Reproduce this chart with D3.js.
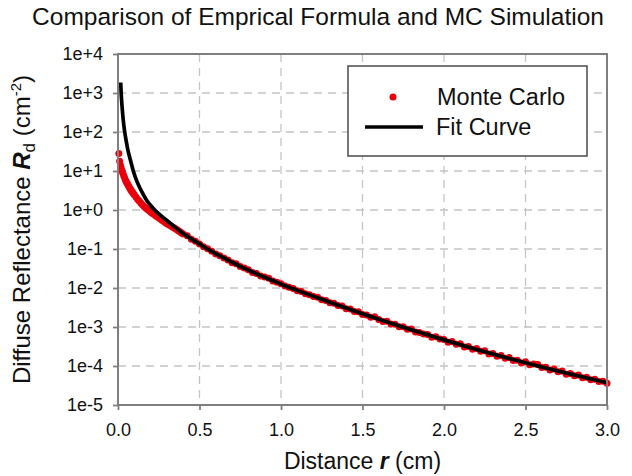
<!DOCTYPE html>
<html>
<head>
<meta charset="utf-8">
<script src="https://cdn.jsdelivr.net/npm/d3@7"></script>
<style>
  html, body { margin: 0; padding: 0; background: #fff; }
  svg { display: block; }
  text { font-family: Arial, "Liberation Sans", Helvetica, sans-serif; fill: #111; }
</style>
</head>
<body>
<svg id="chart" width="632" height="476"></svg>
<script>
// ---------------- data ----------------
const titleText = "Comparison of Emprical Formula and MC Simulation";
const xTickValues = [0, 0.5, 1.0, 1.5, 2.0, 2.5, 3.0];
const yTickValues = [1e4, 1e3, 1e2, 1e1, 1e0, 1e-1, 1e-2, 1e-3, 1e-4, 1e-5];
const yTickLabels = ["1e+4", "1e+3", "1e+2", "1e+1", "1e+0", "1e-1", "1e-2", "1e-3", "1e-4", "1e-5"];
const seriesNames = ["Monte Carlo", "Fit Curve"];

// Monte Carlo simulation: distance r (cm)
const mcR = [
  0.005, 0.010, 0.015, 0.020, 0.025, 0.030, 0.035, 0.040, 0.045, 0.050,
  0.055, 0.060, 0.065, 0.070, 0.075, 0.080, 0.085, 0.090, 0.095, 0.100,
  0.11, 0.12, 0.13, 0.14, 0.15, 0.16, 0.17, 0.18, 0.19, 0.20,
  0.21, 0.22, 0.23, 0.24, 0.25, 0.26, 0.27, 0.28, 0.29, 0.30,
  0.31, 0.32, 0.33, 0.34, 0.35, 0.36, 0.37, 0.38, 0.39, 0.40,
  0.425, 0.450, 0.475, 0.500, 0.525, 0.550, 0.575, 0.600, 0.625, 0.650,
  0.675, 0.700, 0.725, 0.750, 0.775, 0.800, 0.825, 0.850, 0.875, 0.900,
  0.925, 0.950, 0.975, 1.000, 1.025, 1.050, 1.075, 1.100, 1.125, 1.150,
  1.175, 1.200, 1.225, 1.250, 1.275, 1.300, 1.325, 1.350, 1.375, 1.400,
  1.425, 1.450, 1.475, 1.500, 1.525, 1.550, 1.575, 1.600, 1.625, 1.650,
  1.675, 1.700, 1.725, 1.750, 1.775, 1.800, 1.825, 1.850, 1.875, 1.900,
  1.925, 1.950, 1.975, 2.000, 2.025, 2.050, 2.075, 2.100, 2.125, 2.150,
  2.175, 2.200, 2.225, 2.250, 2.275, 2.300, 2.325, 2.350, 2.375, 2.400,
  2.425, 2.450, 2.475, 2.500, 2.525, 2.550, 2.575, 2.600, 2.625, 2.650,
  2.675, 2.700, 2.725, 2.750, 2.775, 2.800, 2.825, 2.850, 2.875, 2.900,
  2.925, 2.950, 2.975, 3.000
];
// Monte Carlo simulation: diffuse reflectance Rd (cm^-2)
const mcRd = [
  28.2, 17.8, 14.1, 11.7, 10.0, 8.7, 7.6, 6.8, 6.0, 5.4,
  4.9, 4.5, 4.1, 3.8, 3.5, 3.2, 3.0, 2.8, 2.6, 2.45,
  2.16, 1.9, 1.7, 1.51, 1.36, 1.23, 1.13, 1.05, 0.966, 0.89,
  0.83, 0.776, 0.724, 0.676, 0.63, 0.589, 0.55, 0.513, 0.479, 0.447,
  0.422, 0.398, 0.376, 0.355, 0.335, 0.316, 0.295, 0.275, 0.257, 0.243,
  0.219, 0.178, 0.158, 0.135, 0.115, 0.102, 0.0871, 0.0741, 0.0676, 0.0589,
  0.0525, 0.0447, 0.0417, 0.0355, 0.0324, 0.0295, 0.0251, 0.0234, 0.0204, 0.0191,
  0.0178, 0.0151, 0.0141, 0.0129, 0.0112, 0.0105, 0.00977, 0.00851, 0.00813, 0.00708,
  0.00676, 0.00603, 0.00575, 0.00501, 0.00479, 0.00417, 0.00407, 0.00355, 0.00347, 0.00295,
  0.00288, 0.00251, 0.00246, 0.00209, 0.00204, 0.00178, 0.00182, 0.00155, 0.00138, 0.00141,
  0.00120, 0.00118, 0.00102, 0.00101, 8.71e-4, 8.91e-4, 7.41e-4, 7.24e-4, 6.61e-4, 6.46e-4,
  5.50e-4, 5.62e-4, 4.90e-4, 4.79e-4, 4.07e-4, 4.27e-4, 3.63e-4, 3.72e-4, 3.09e-4, 3.16e-4,
  2.69e-4, 2.82e-4, 2.40e-4, 2.45e-4, 2.04e-4, 2.09e-4, 1.78e-4, 1.86e-4, 1.58e-4, 1.66e-4,
  1.38e-4, 1.41e-4, 1.20e-4, 1.29e-4, 1.07e-4, 1.12e-4, 1.10e-4, 9.12e-5, 9.33e-5, 7.94e-5,
  8.32e-5, 7.08e-5, 7.41e-5, 6.17e-5, 6.46e-5, 5.62e-5, 5.89e-5, 5.01e-5, 5.13e-5, 4.47e-5,
  4.57e-5, 3.98e-5, 4.07e-5, 3.63e-5
];

// Empirical fit curve: distance r (cm)
const fitR = [
  0.0164, 0.02, 0.025, 0.03, 0.035, 0.043, 0.05, 0.06, 0.07, 0.08,
  0.094, 0.11, 0.13, 0.155, 0.18, 0.20, 0.23, 0.26, 0.30, 0.35,
  0.40, 0.45, 0.50, 0.55, 0.60, 0.65, 0.70, 0.75, 0.80, 0.85,
  0.90, 0.95, 1.0, 1.1, 1.2, 1.3, 1.4, 1.5, 1.6, 1.7,
  1.8, 1.9, 2.0, 2.1, 2.2, 2.3, 2.4, 2.5, 2.6, 2.7,
  2.8, 2.9, 3.0
];
// Empirical fit curve: diffuse reflectance Rd (cm^-2)
const fitRd = [
  1860, 891, 447, 251, 158, 89, 60, 35.5, 24, 16.6,
  10, 6.3, 4.0, 2.5, 1.66, 1.32, 0.955, 0.741, 0.537, 0.363,
  0.251, 0.182, 0.135, 0.1, 0.0759, 0.0589, 0.0457, 0.0359, 0.0288, 0.0232,
  0.0188, 0.0155, 0.0126, 0.0087, 0.0061, 0.00432, 0.00305, 0.00219, 0.00158, 0.00116,
  8.51e-4, 6.31e-4, 4.68e-4, 3.52e-4, 2.66e-4, 2.03e-4, 1.56e-4, 1.21e-4, 9.44e-5, 7.43e-5,
  5.89e-5, 4.68e-5, 3.72e-5
];

// ---------------- chart ----------------
const W = 632, H = 476;
const margin = { left: 118, right: 25, top: 54, bottom: 71 };
const svg = d3.select("#chart");

const x = d3.scaleLinear().domain([0, 3]).range([margin.left, W - margin.right]);
const y = d3.scaleLog().domain([1e-5, 1e4]).range([H - margin.bottom, margin.top]);

const gridColor = "#c4c4c4";
const axisColor = "#7f7f7f";

// grid lines
const grid = svg.append("g");
grid.selectAll("line.vg").data(xTickValues.slice(1, -1)).join("line")
  .attr("x1", d => x(d)).attr("x2", d => x(d))
  .attr("y1", y(1e4)).attr("y2", y(1e-5))
  .attr("stroke", gridColor).attr("stroke-width", 1.3).attr("stroke-dasharray", "8,6");
grid.selectAll("line.hg").data(yTickValues.slice(1, -1)).join("line")
  .attr("x1", x(0)).attr("x2", x(3))
  .attr("y1", d => y(d)).attr("y2", d => y(d))
  .attr("stroke", gridColor).attr("stroke-width", 1.3).attr("stroke-dasharray", "8,6");

// Monte Carlo dots
const mcData = mcR.map((r, i) => ({ r, v: mcRd[i] }));
svg.append("g").selectAll("circle").data(mcData).join("circle")
  .attr("cx", d => x(d.r)).attr("cy", d => y(d.v)).attr("r", 3.5)
  .attr("fill", "#e8000b");

// Fit curve
const fitData = fitR.map((r, i) => ({ r, v: fitRd[i] }));
const line = d3.line().x(d => x(d.r)).y(d => y(d.v)).curve(d3.curveMonotoneX);
svg.append("path").datum(fitData)
  .attr("d", line)
  .attr("fill", "none").attr("stroke", "#000").attr("stroke-width", 3.7)
  .attr("stroke-linejoin", "round");

// axes
const yAxis = d3.axisLeft(y).tickValues(yTickValues)
  .tickFormat((d, i) => yTickLabels[i]).tickSize(5).tickPadding(10);
const gy = svg.append("g").attr("transform", `translate(${margin.left},0)`).call(yAxis);
const xAxis = d3.axisBottom(x).tickValues(xTickValues)
  .tickFormat(d3.format(".1f")).tickSize(5).tickPadding(13);
const gx = svg.append("g").attr("transform", `translate(0,${H - margin.bottom})`).call(xAxis);

[gx, gy].forEach(g => {
  g.select(".domain").remove();
  g.selectAll(".tick line").attr("stroke", axisColor).attr("stroke-width", 1.8);
  g.selectAll(".tick text").attr("font-size", 18).attr("fill", "#111")
    .attr("font-family", 'Arial, "Liberation Sans", sans-serif');
});

// plot frame
svg.append("rect")
  .attr("x", x(0)).attr("y", y(1e4))
  .attr("width", x(3) - x(0)).attr("height", y(1e-5) - y(1e4))
  .attr("fill", "none").attr("stroke", axisColor).attr("stroke-width", 2);

// title
svg.append("text")
  .attr("x", 318).attr("y", 25)
  .attr("text-anchor", "middle").attr("font-size", 24.5)
  .text(titleText);

// x-axis title
const xt = svg.append("text")
  .attr("x", (x(0) + x(3)) / 2).attr("y", 469)
  .attr("text-anchor", "middle").attr("font-size", 23);
xt.append("tspan").text("Distance ");
xt.append("tspan").attr("font-style", "italic").attr("font-weight", "bold").text("r");
xt.append("tspan").text(" (cm)");

// y-axis title
const yt = svg.append("text")
  .attr("transform", `translate(30,${(y(1e4) + y(1e-5)) / 2}) rotate(-90)`)
  .attr("text-anchor", "middle").attr("font-size", 24);
yt.append("tspan").text("Diffuse Reflectance ");
yt.append("tspan").attr("font-style", "italic").attr("font-weight", "bold").text("R");
yt.append("tspan").attr("font-size", 17).attr("dy", 5).text("d");
yt.append("tspan").attr("dy", -5).text(" (cm");
yt.append("tspan").attr("font-size", 15).attr("dy", -9).text("-2");
yt.append("tspan").attr("dy", 9).text(")");

// legend
const lg = svg.append("g");
lg.append("rect").attr("x", 348).attr("y", 66).attr("width", 239).attr("height", 90)
  .attr("fill", "#fff").attr("stroke", "#555").attr("stroke-width", 1.6);
lg.append("circle").attr("cx", 393).attr("cy", 97).attr("r", 3.5).attr("fill", "#e8000b");
lg.append("text").attr("x", 437).attr("y", 105).attr("font-size", 23.5).text(seriesNames[0]);
lg.append("line").attr("x1", 365).attr("x2", 423).attr("y1", 127).attr("y2", 127)
  .attr("stroke", "#000").attr("stroke-width", 3.5);
lg.append("text").attr("x", 436).attr("y", 135).attr("font-size", 23.5).text(seriesNames[1]);
</script>
</body>
</html>
